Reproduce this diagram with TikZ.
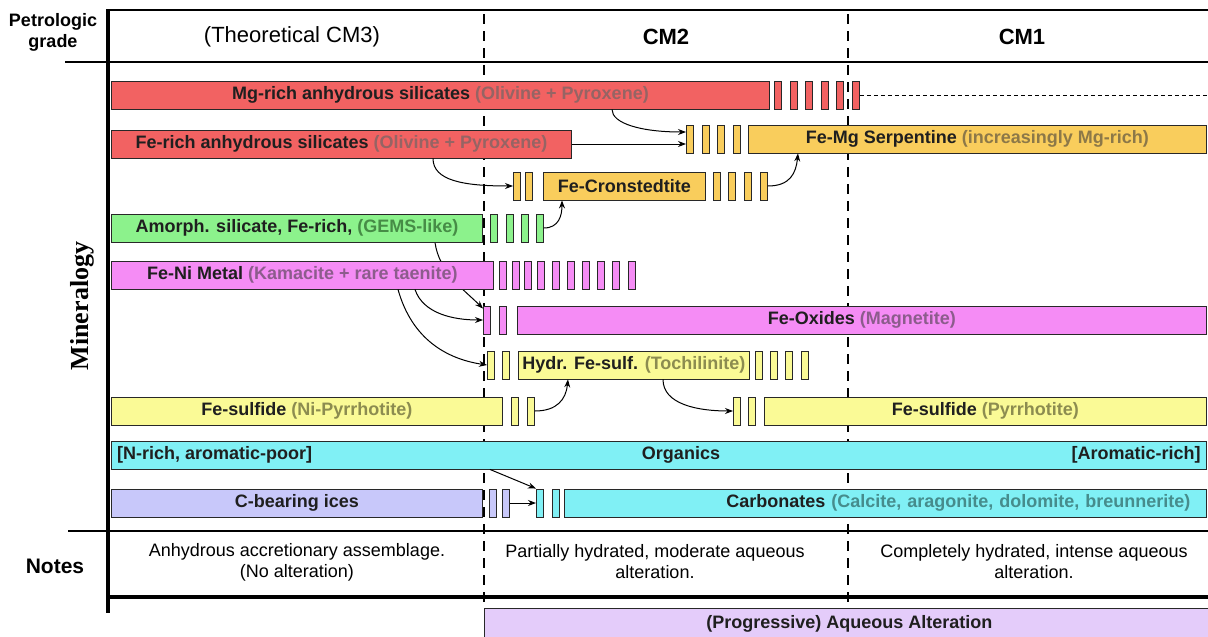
\documentclass[tikz,border=0pt]{standalone}
\usepackage{fontspec}
\setmainfont{Liberation Sans}
\newfontfamily\serifmin{Liberation Serif}
\usetikzlibrary{arrows.meta,backgrounds}
\definecolor{cRed}{RGB}{242,98,98}
\definecolor{cRedT}{RGB}{150,100,100}
\definecolor{cOrange}{RGB}{249,205,92}
\definecolor{cOrangeT}{RGB}{140,120,72}
\definecolor{cGreen}{RGB}{140,242,140}
\definecolor{cGreenT}{RGB}{70,140,70}
\definecolor{cPink}{RGB}{245,140,245}
\definecolor{cPinkT}{RGB}{140,92,140}
\definecolor{cYellow}{RGB}{250,250,150}
\definecolor{cYellowT}{RGB}{140,140,80}
\definecolor{cCyan}{RGB}{128,240,245}
\definecolor{cCyanT}{RGB}{70,140,140}
\definecolor{cLav}{RGB}{200,200,250}
\definecolor{cPurple}{RGB}{228,204,250}
\definecolor{cLine}{RGB}{40,40,40}
\tikzset{
  bar/.style={draw=cLine, line width=0.9pt, minimum height=28pt, inner sep=0pt, anchor=west,
    font=\bfseries\fontsize{18}{20}\selectfont, text=black!88},
  sbox/.style={draw=cLine, line width=0.9pt, minimum height=28pt, minimum width=7pt, inner sep=0pt, anchor=west},
  arr/.style={draw=black, line width=1pt, -{Stealth[length=8pt,width=6pt]}},
  bartext/.style={inner sep=0pt, font=\bfseries\fontsize{18}{20}\selectfont, text=black!88},
  vdash/.style={line width=2.8pt, dash pattern=on 10pt off 7pt},
  hdr/.style={font=\fontsize{22}{26}\selectfont},
  hdrb/.style={font=\bfseries\fontsize{22}{26}\selectfont},
  note/.style={font=\fontsize{18}{21}\selectfont, align=center, inner sep=0pt},
}
\begin{document}
\begin{tikzpicture}[x=1pt,y=1pt]
\useasboundingbox (0,0) rectangle (1208,-637);
% ---- frame lines
\draw[line width=2.5pt] (108,-10) -- (1208,-10);
\draw[line width=2pt] (65,-62) -- (1208,-62);
\draw[line width=2pt] (68,-531) -- (1208,-531);
\draw[line width=4pt] (108,-597) -- (1208,-597);
\draw[line width=4pt] (108,-9) -- (108,-613);
% ---- header
\node[font=\bfseries\fontsize{18}{21}\selectfont, align=center, inner sep=0pt] (pg) at (53,-32) {Petrologic\\grade};
\node[hdr] (h3) at (292,-37) {(Theoretical CM3)};
\node[hdrb] (h2) at (666,-37) {CM2};
\node[hdrb] (h1) at (1022,-37) {CM1};
\node[rotate=90, font=\serifmin\bfseries\fontsize{26}{30}\selectfont] (mn) at (82,-306) {Mineralogy};
% ---- row 1
\node[bar,fill=cRed,minimum width=658pt] (mg) at (111,-95) {Mg-rich anhydrous silicates \textcolor{cRedT}{(Olivine + Pyroxene)}};
\foreach \n/\x in {1/774,2/790,3/805,4/821,5/836,6/852} \node[sbox,fill=cRed] (mgs\n) at (\x,-95) {};
\coordinate (mgend) at (1208,-95);
\draw[line width=0.9pt, dash pattern=on 4pt off 3pt] (mgs6.east) -- (mgend);
% ---- row 2
\node[bar,fill=cRed,minimum width=460pt] (fer) at (111,-144) {Fe-rich anhydrous silicates \textcolor{cRedT}{(Olivine + Pyroxene)}};
\foreach \n/\x in {1/686,2/702,3/717,4/733} \node[sbox,fill=cOrange] (srs\n) at (\x,-139) {};
\node[bar,fill=cOrange,minimum width=458pt] (ser) at (748,-139) {Fe-Mg Serpentine \textcolor{cOrangeT}{(increasingly Mg-rich)}};
% ---- row 3
\foreach \n/\x in {1/513,2/525} \node[sbox,fill=cOrange] (crs\n) at (\x,-186) {};
\node[bar,fill=cOrange,minimum width=162pt] (cr) at (543,-186) {Fe-Cronstedtite};
\foreach \n/\x in {1/713,2/728,3/744,4/760} \node[sbox,fill=cOrange] (crt\n) at (\x,-186) {};
% ---- row 4
\node[bar,fill=cGreen,minimum width=371pt] (am) at (111,-228) {Amorph. silicate, Fe-rich, \textcolor{cGreenT}{(GEMS-like)}};
\foreach \n/\x in {1/490,2/506,3/521,4/536} \node[sbox,fill=cGreen] (ams\n) at (\x,-228) {};
% ---- row 5
\node[bar,fill=cPink,minimum width=382pt] (fn) at (111,-275) {Fe-Ni Metal \textcolor{cPinkT}{(Kamacite + rare taenite)}};
\foreach \n/\x in {1/499,2/512,3/524,4/537,5/552,6/567,7/582,8/597,9/612,10/628} \node[sbox,fill=cPink] (fns\n) at (\x,-275) {};
% ---- row 6
\foreach \n/\x in {1/483,2/499} \node[sbox,fill=cPink] (fos\n) at (\x,-320) {};
\node[bar,fill=cPink,minimum width=689pt] (fo) at (517,-320) {Fe-Oxides \textcolor{cPinkT}{(Magnetite)}};
% ---- row 7
\foreach \n/\x in {1/487,2/502} \node[sbox,fill=cYellow] (hys\n) at (\x,-365) {};
\node[bar,fill=cYellow,minimum width=231pt] (hy) at (518,-365) {Hydr. Fe-sulf. \textcolor{cYellowT}{(Tochilinite)}};
\foreach \n/\x in {1/755,2/770,3/785,4/801} \node[sbox,fill=cYellow] (hyt\n) at (\x,-365) {};
% ---- row 8
\node[bar,fill=cYellow,minimum width=391pt] (fs) at (111,-411) {Fe-sulfide \textcolor{cYellowT}{(Ni-Pyrrhotite)}};
\foreach \n/\x in {1/511,2/527} \node[sbox,fill=cYellow] (fss\n) at (\x,-411) {};
\foreach \n/\x in {1/733,2/748} \node[sbox,fill=cYellow] (pys\n) at (\x,-411) {};
\node[bar,fill=cYellow,minimum width=442pt] (py) at (764,-411) {Fe-sulfide \textcolor{cYellowT}{(Pyrrhotite)}};
% ---- row 9
\node[bar,fill=cCyan,minimum width=1095pt] (org) at (111,-455) {};
\node[bartext,anchor=west] (orgl) at ([xshift=6pt]org.west) {[N-rich, aromatic-poor]};
\node[bartext] (orgc) at (681,-455) {Organics};
\node[bartext,anchor=east] (orgr) at ([xshift=-6pt]org.east) {[Aromatic-rich]};
% ---- row 10
\node[bar,fill=cLav,minimum width=371pt] (ic) at (111,-503) {C-bearing ices};
\foreach \n/\x in {1/489,2/502} \node[sbox,fill=cLav] (ics\n) at (\x,-503) {};
\foreach \n/\x in {1/536,2/552} \node[sbox,fill=cCyan] (cas\n) at (\x,-503) {};
\node[bar,fill=cCyan,minimum width=642pt,text width=610pt,align=right] (ca) at (564,-503) {Carbonates \textcolor{cCyanT}{(Calcite, aragonite, dolomite, breunnerite)}};
% ---- notes
\node[font=\bfseries\fontsize{21}{25}\selectfont] (nt) at (55,-566) {Notes};
\node[note] (n1) at (297,-562) {Anhydrous accretionary assemblage.\\(No alteration)};
\node[note] (n2) at (655,-562) {Partially hydrated, moderate aqueous\\alteration.};
\node[note] (n3) at (1034,-562) {Completely hydrated, intense aqueous\\alteration.};
% ---- bottom box
\node[draw=cLine, line width=0.9pt, fill=cPurple, minimum width=730pt, minimum height=30pt, anchor=north west, inner sep=0pt,
  font=\bfseries\fontsize{18}{20}\selectfont, text=black!88] (aq) at (484,-608) {(Progressive) Aqueous Alteration};
% ---- dashed column dividers and hidden connector (behind bars)
\begin{scope}[on background layer]
\draw[vdash] (484,-14) -- (484,-608);
\draw[vdash] (848,-14) -- (848,-606);
\draw[arr] ([xshift=324pt]am.south west) .. controls +(4,-30) and +(-18,18) .. ([yshift=-3pt]fos1.north west);
\end{scope}
% ---- connectors
\draw[arr] (fer.east) -- (fer.east -| srs1.west);
\draw[arr] ([xshift=501pt]mg.south west) .. controls +(0,-14) and +(-45,0) .. ([yshift=7pt]srs1.west);
\draw[arr] ([xshift=322pt]fer.south west) .. controls +(0,-22) and +(-50,0) .. (crs1.west);
\draw[arr] (crt4.east) .. controls +(22,0) and +(-2,-20) .. ([xshift=50pt]ser.south west);
\draw[arr] (ams4.east) .. controls +(15,0) and +(0,-15) .. ([xshift=19pt]cr.south west);
\draw[arr] ([xshift=304pt]fn.south west) .. controls +(8,-24) and +(-30,0) .. (fos1.west);
\draw[arr] ([xshift=287pt]fn.south west) .. controls +(14,-50) and +(-40,6) .. (hys1.west);
\draw[arr] ([xshift=145pt]hy.south west) .. controls +(0,-25) and +(-35,0) .. (pys1.west);
\draw[arr] (fss2.east) .. controls +(22,0) and +(-2,-20) .. ([xshift=50pt]hy.south west);
\draw[arr] ([xshift=379pt]org.south west) -- (cas1.north west);
\draw[arr] (ics2.east) -- (cas1.west);
\end{tikzpicture}
\end{document}
